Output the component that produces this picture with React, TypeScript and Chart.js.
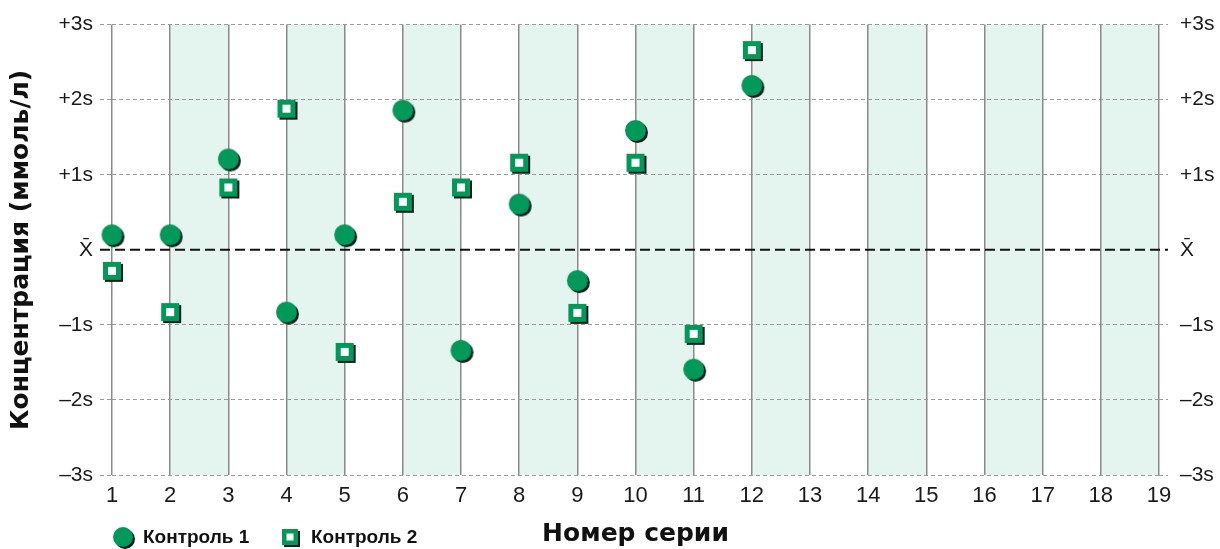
import React, { useEffect, useRef } from "react";
import { Chart, registerables } from "chart.js";

Chart.register(...registerables);

const seriesNumbers = [1, 2, 3, 4, 5, 6, 7, 8, 9, 10, 11, 12];
const control1 = [0.2, 0.2, 1.21, -0.83, 0.2, 1.86, -1.34, 0.61, -0.41, 1.59, -1.59, 2.19];
const control2 = [-0.28, -0.83, 0.83, 1.88, -1.36, 0.64, 0.83, 1.16, -0.84, 1.16, -1.12, 2.66];
const yTickLabels: Record<string, string> = {
  "-3": "\u20133s",
  "-2": "\u20132s",
  "-1": "\u20131s",
  "0": "X\u0304",
  "1": "+1s",
  "2": "+2s",
  "3": "+3s",
};
const shadedBands = [2, 4, 6, 8, 10, 12, 14, 16, 18];
const legendLabels = ["Контроль 1", "Контроль 2"];

const GREEN = "#00995a";
const SHADOW = "#1b1b1b";
const BAND = "#e4f5ef";
const SANS = "'Liberation Sans', Arial, Helvetica, sans-serif";

function makeCircle(r: number) {
  const c = document.createElement("canvas");
  const s = Math.ceil(r * 2 + 8);
  c.width = s;
  c.height = s;
  const g = c.getContext("2d")!;
  const m = s / 2;
  g.fillStyle = SHADOW;
  g.beginPath();
  g.arc(m + 2, m + 2, r, 0, Math.PI * 2);
  g.fill();
  g.fillStyle = GREEN;
  g.beginPath();
  g.arc(m, m, r, 0, Math.PI * 2);
  g.fill();
  return c;
}

function makeSquare(size: number, inner: number) {
  const c = document.createElement("canvas");
  const s = Math.ceil(size + 8);
  c.width = s;
  c.height = s;
  const g = c.getContext("2d")!;
  const m = s / 2;
  g.fillStyle = SHADOW;
  g.fillRect(m - size / 2 + 2, m - size / 2 + 2, size, size);
  g.fillStyle = GREEN;
  g.fillRect(m - size / 2, m - size / 2, size, size);
  g.fillStyle = "#ffffff";
  g.fillRect(m - inner / 2, m - inner / 2, inner, inner);
  return c;
}

export default function App() {
  const ref = useRef<HTMLCanvasElement | null>(null);

  useEffect(() => {
    document.body.style.margin = "0";
    const canvas = ref.current!;
    const circle = makeCircle(10.5);
    const square = makeSquare(18, 8);
    const legCircle = makeCircle(10);
    const legSquare = makeSquare(16, 7);

    const bandsPlugin = {
      id: "bands",
      beforeDraw(chart: any) {
        const { ctx, chartArea, scales } = chart;
        const x = scales.x;
        ctx.save();
        ctx.fillStyle = BAND;
        for (const b of shadedBands) {
          const x0 = x.getPixelForValue(b);
          const x1 = x.getPixelForValue(b + 1);
          ctx.fillRect(x0, chartArea.top, x1 - x0, chartArea.bottom - chartArea.top);
        }
        ctx.restore();
      },
      beforeDatasetsDraw(chart: any) {
        const { ctx, chartArea, scales } = chart;
        const y0 = scales.y.getPixelForValue(0);
        ctx.save();
        ctx.strokeStyle = "#111111";
        ctx.lineWidth = 2;
        ctx.setLineDash([10, 5]);
        ctx.beginPath();
        ctx.moveTo(chartArea.left - 12, y0);
        ctx.lineTo(chartArea.right + 9, y0);
        ctx.stroke();
        ctx.restore();
      },
      afterDraw(chart: any) {
        const { ctx, chartArea } = chart;
        const cy = 537;
        ctx.save();
        ctx.font = "bold 19px " + SANS;
        ctx.fillStyle = "#111111";
        ctx.textBaseline = "middle";
        let cx = chartArea.left + 11;
        ctx.drawImage(legCircle, cx - legCircle.width / 2, cy - legCircle.height / 2);
        ctx.fillText(legendLabels[0], cx + 20, cy + 1);
        cx = chartArea.left + 178;
        ctx.drawImage(legSquare, cx - legSquare.width / 2, cy - legSquare.height / 2);
        ctx.fillText(legendLabels[1], cx + 21, cy + 1);
        ctx.restore();
      },
    };

    const yTicks = {
      stepSize: 1,
      color: "#1a1a1a",
      font: { family: SANS, size: 21 },
      callback: (v: any) => yTickLabels[String(v)] ?? "",
    };

    const chart = new Chart(canvas, {
      type: "scatter",
      data: {
        datasets: [
          {
            label: legendLabels[0],
            data: seriesNumbers.map((n, i) => ({ x: n, y: control1[i] })),
            pointStyle: circle as any,
            clip: false as any,
          },
          {
            label: legendLabels[1],
            data: seriesNumbers.map((n, i) => ({ x: n, y: control2[i] })),
            pointStyle: square as any,
            clip: false as any,
          },
        ],
      },
      options: {
        animation: false,
        responsive: false,
        devicePixelRatio: 1,
        events: [],
        layout: { padding: { top: 23, left: 0, right: 0, bottom: 0 } },
        plugins: {
          legend: { display: false },
          tooltip: { enabled: false },
        },
        scales: {
          x: {
            type: "linear",
            min: 1,
            max: 19,
            ticks: {
              stepSize: 1,
              padding: 8,
              color: "#1a1a1a",
              font: { family: SANS, size: 22 },
            },
            grid: { color: "#8a8a8a", lineWidth: 1.5, drawTicks: false },
            border: { display: false },
            title: {
              display: true,
              text: "Номер серии",
              color: "#111111",
              font: { family: "'DejaVu Sans', sans-serif", size: 25, weight: "bold" },
              padding: { top: 0, bottom: 0 },
            },
            afterFit(scale: any) {
              scale.height = 74;
            },
          },
          y: {
            type: "linear",
            position: "left",
            min: -3,
            max: 3,
            ticks: { ...yTicks, padding: 7 },
            grid: {
              color: (c: any) => (c.tick && c.tick.value === 0 ? "rgba(0,0,0,0)" : "#9a9a9a"),
              lineWidth: 1,
              tickLength: 12,
              tickBorderDash: [4, 3],
            },
            border: { display: false, dash: [4, 3] },
            title: {
              display: true,
              text: "Концентрация (ммоль/л)",
              color: "#111111",
              font: { family: "'DejaVu Sans', sans-serif", size: 25, weight: "bold" },
              padding: { top: 6, bottom: 0 },
            },
            afterFit(scale: any) {
              scale.width = 112;
            },
          },
          y2: {
            type: "linear",
            position: "right",
            min: -3,
            max: 3,
            ticks: { ...yTicks, padding: 12 },
            grid: {
              drawOnChartArea: false,
              color: (c: any) => (c.tick && c.tick.value === 0 ? "rgba(0,0,0,0)" : "#9a9a9a"),
              tickLength: 9,
              tickBorderDash: [4, 3],
            },
            border: { display: false, dash: [4, 3] },
            afterFit(scale: any) {
              scale.width = 61;
            },
          },
        },
      },
      plugins: [bandsPlugin],
    } as any);

    return () => chart.destroy();
  }, []);

  return (
    <div style={{ width: 1220, height: 549, background: "#ffffff" }}>
      <canvas ref={ref} width={1220} height={549} />
    </div>
  );
}
